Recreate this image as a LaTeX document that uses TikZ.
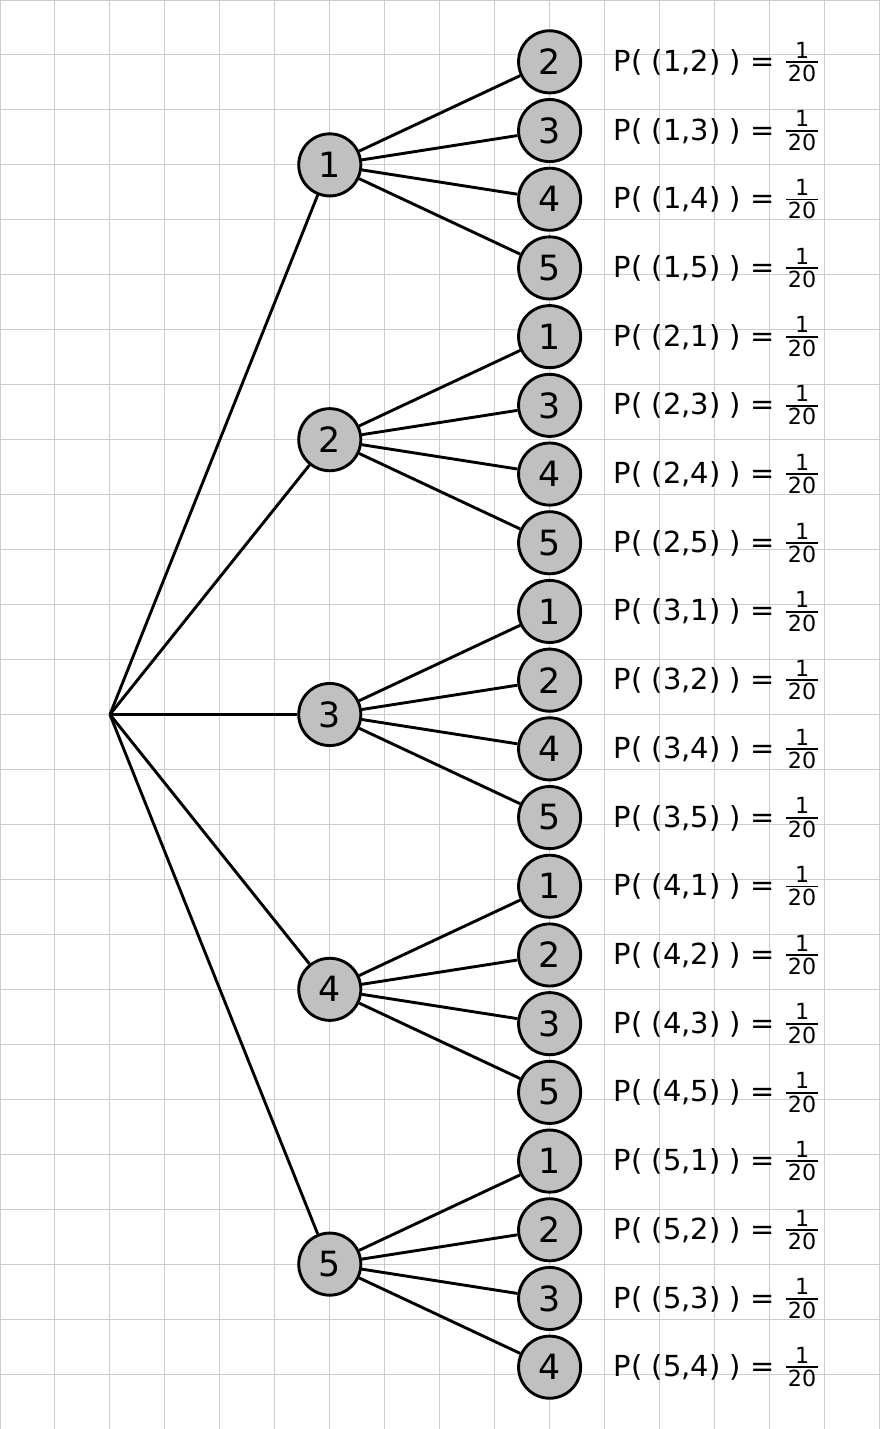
\documentclass[tikz,border=0pt]{standalone}
\usepackage{amsmath}
\usepackage{fontspec}
\setmainfont{DejaVu Sans}
\usetikzlibrary{positioning}
\definecolor{nodegray}{RGB}{192,192,192}
\definecolor{gridgray}{RGB}{204,204,204}
\newcommand{\fracfont}{\fontsize{11.5}{12}\selectfont}
\newcommand{\probtxt}[1]{P( (#1) ) = \raisebox{1.2pt}{$\genfrac{}{}{1pt}{1}{\hbox{\fracfont 1}}{\hbox{\fracfont\kern1pt 20\kern1pt}}$}}
\tikzset{
    vertex/.style={circle, draw, on grid, line width=1.5pt, fill=nodegray,
        minimum size=1.13cm, inner sep=0pt, font=\fontsize{18}{20}\selectfont},
    prob/.style={inner sep=0pt, font=\fontsize{15}{18}\selectfont},
    branch/.style={line width=1.5pt},
    gridline/.style={gridgray, line width=0.5pt},
}

\begin{document}
\begin{tikzpicture}
    \useasboundingbox (0,0) rectangle (16,-26);
    \draw[gridline] (0,0) grid (16,-26);

    % first draw
        \coordinate (r) at (2,-13);
        \node[vertex] (a3) at (6,-13) {3};
        \node[vertex, above=5cm of a3] (a2) {2};
        \node[vertex, above=5cm of a2] (a1) {1};
        \node[vertex, below=5cm of a3] (a4) {4};
        \node[vertex, below=5cm of a4] (a5) {5};

    % second draw
        \node[vertex, above right=1.875cm and 4cm of a1] (b12) {2};
        \node[vertex, below=1.25cm of b12] (b13) {3};
        \node[vertex, below=1.25cm of b13] (b14) {4};
        \node[vertex, below=1.25cm of b14] (b15) {5};
        \node[vertex, below=1.25cm of b15] (b21) {1};
        \node[vertex, below=1.25cm of b21] (b23) {3};
        \node[vertex, below=1.25cm of b23] (b24) {4};
        \node[vertex, below=1.25cm of b24] (b25) {5};
        \node[vertex, below=1.25cm of b25] (b31) {1};
        \node[vertex, below=1.25cm of b31] (b32) {2};
        \node[vertex, below=1.25cm of b32] (b34) {4};
        \node[vertex, below=1.25cm of b34] (b35) {5};
        \node[vertex, below=1.25cm of b35] (b41) {1};
        \node[vertex, below=1.25cm of b41] (b42) {2};
        \node[vertex, below=1.25cm of b42] (b43) {3};
        \node[vertex, below=1.25cm of b43] (b45) {5};
        \node[vertex, below=1.25cm of b45] (b51) {1};
        \node[vertex, below=1.25cm of b51] (b52) {2};
        \node[vertex, below=1.25cm of b52] (b53) {3};
        \node[vertex, below=1.25cm of b53] (b54) {4};

    % probabilities
        \node[prob, right=0.57cm of b12] (p12) {\probtxt{1,2}};
        \node[prob, right=0.57cm of b13] (p13) {\probtxt{1,3}};
        \node[prob, right=0.57cm of b14] (p14) {\probtxt{1,4}};
        \node[prob, right=0.57cm of b15] (p15) {\probtxt{1,5}};
        \node[prob, right=0.57cm of b21] (p21) {\probtxt{2,1}};
        \node[prob, right=0.57cm of b23] (p23) {\probtxt{2,3}};
        \node[prob, right=0.57cm of b24] (p24) {\probtxt{2,4}};
        \node[prob, right=0.57cm of b25] (p25) {\probtxt{2,5}};
        \node[prob, right=0.57cm of b31] (p31) {\probtxt{3,1}};
        \node[prob, right=0.57cm of b32] (p32) {\probtxt{3,2}};
        \node[prob, right=0.57cm of b34] (p34) {\probtxt{3,4}};
        \node[prob, right=0.57cm of b35] (p35) {\probtxt{3,5}};
        \node[prob, right=0.57cm of b41] (p41) {\probtxt{4,1}};
        \node[prob, right=0.57cm of b42] (p42) {\probtxt{4,2}};
        \node[prob, right=0.57cm of b43] (p43) {\probtxt{4,3}};
        \node[prob, right=0.57cm of b45] (p45) {\probtxt{4,5}};
        \node[prob, right=0.57cm of b51] (p51) {\probtxt{5,1}};
        \node[prob, right=0.57cm of b52] (p52) {\probtxt{5,2}};
        \node[prob, right=0.57cm of b53] (p53) {\probtxt{5,3}};
        \node[prob, right=0.57cm of b54] (p54) {\probtxt{5,4}};

    \path[branch]
        (r) edge (a1)
            edge (a2)
            edge (a3)
            edge (a4)
            edge (a5)
        (a1) edge (b12) edge (b13) edge (b14) edge (b15)
        (a2) edge (b21) edge (b23) edge (b24) edge (b25)
        (a3) edge (b31) edge (b32) edge (b34) edge (b35)
        (a4) edge (b41) edge (b42) edge (b43) edge (b45)
        (a5) edge (b51) edge (b52) edge (b53) edge (b54);
\end{tikzpicture}
\end{document}
